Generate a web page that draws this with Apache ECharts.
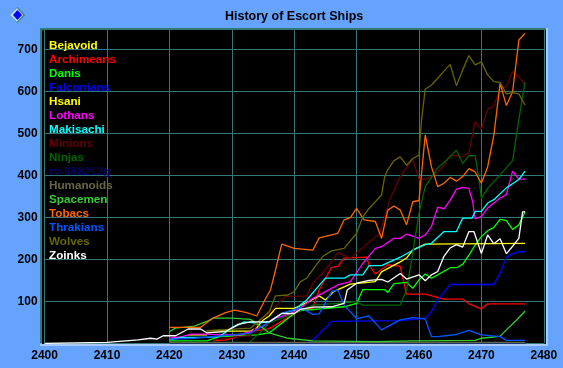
<!DOCTYPE html>
<html><head><meta charset="utf-8">
<style>html,body{margin:0;padding:0;background:#66a3ff}#c{width:563px;height:368px}</style>
<script src="https://cdn.jsdelivr.net/npm/echarts@6/dist/echarts.min.js"></script>
</head><body><div id="c"></div>
<script>
const titleText = "History of Escort Ships";
const names = ["Bejavoid","Archimeans","Danis","Falconians","Hsani","Lothans","Makisachi","Minions","Ninjas","rv-988212g","Humanoids","Spacemen","Tobacs","Thrakians","Wolves","Zoinks"];
const colors = ["#ffff00","#ff0000","#00ff00","#0000ff","#ffff00","#ff00ff","#00ffff","#660000","#006600","#000066","#666644","#33cc33","#ff6600","#0055ff","#666600","#ffffff"];

const bejavoid = [[2423,20],[2426,20]];
const archimeans = [[2427,6],[2429,8],[2431,16],[2433,28],[2436,35],[2441,79],[2443,84],[2444,127],[2446,181],[2447,183],[2448,203],[2451.6,205],[2452,187],[2453,165],[2455,187],[2457,183],[2457.6,143],[2458,117],[2461,117],[2464,105],[2467,105],[2468,94],[2470,82],[2471,94],[2477,94]];
const danis = [[2420,6],[2426,6],[2428,16],[2434,20],[2436,25],[2438,48],[2440,71],[2441,78],[2448,87],[2450,95],[2451,128],[2454.5,128],[2455,121],[2456,142],[2458,145],[2459,131],[2460,151],[2461,165],[2462,155],[2463,163],[2465,180],[2466,180],[2467,188],[2468,210],[2469,234],[2470,254],[2471,268],[2472,276],[2473,295],[2474,292],[2475,271],[2476,282],[2477,313]];
const falconians = [[2442,0],[2443,8],[2446,52],[2457,54],[2460,58],[2461,58],[2462,76],[2463,103],[2465,140],[2472,140],[2473,167],[2474,205],[2475,213],[2476,218],[2477,218]];
const hsani = [[2426,30],[2430,29],[2433,29],[2434,37],[2435,55],[2436,65],[2437,83],[2440,83],[2442,97],[2444,113],[2445,103],[2446.3,123],[2449,141],[2453,147],[2454,170],[2456,186],[2457,194],[2458,203],[2459,222],[2461,236],[2477,238]];
const lothans = [[2420,12],[2422,16],[2423.5,22],[2426,22],[2428,20],[2431,20],[2433,28],[2435,40],[2436,51],[2437,60],[2439,68],[2441,84],[2443,107],[2447,139],[2449,147],[2451,190],[2453,226],[2454,230],[2456,250],[2457,250],[2458,260],[2460,250],[2461,258],[2462,278],[2463,324],[2464,320],[2465,341],[2466,367],[2467,371],[2468,369],[2468.6,337],[2469,296],[2470,302],[2471,322],[2472,334],[2473,346],[2474,354],[2475,410],[2476,391],[2477,391]];
const makisachi = [[2420,8],[2422,14],[2426,14],[2428,16],[2430,36],[2432,51],[2434,48],[2436,51],[2438,71],[2440,79],[2442,103],[2445,155],[2448,155],[2449,163],[2451,163],[2452,185],[2454,185],[2457,205],[2459.3,224],[2461,235],[2462,238],[2464,266],[2466,266],[2467,298],[2468.5,298],[2469,314],[2470,314],[2471,334],[2472,342],[2474,370],[2476,390],[2477,410]];
const minions = [[2427,8],[2431,16],[2433,18],[2434.5,55],[2436,72],[2437.5,95],[2438.5,111],[2442,113],[2443,143],[2445,175],[2447,216],[2449,203],[2451.5,234],[2453.7,262],[2455.3,341],[2457,397],[2458,418],[2459,439],[2460,390],[2461,390],[2462,397],[2463,408],[2464,424],[2465,447],[2466,447],[2467,444],[2468,454],[2469,528],[2470,510],[2471,557],[2472,565],[2473,607],[2474,611],[2475,647],[2476,635],[2477,615]];
const ninjas = [[2433,4],[2435,32],[2436,49],[2438,60],[2440,72],[2443,91],[2447,95],[2450,99],[2451,91],[2457,91],[2458,127],[2459,214],[2460,310],[2461,373],[2462,395],[2463,418],[2464,430],[2466,460],[2467,428],[2468,447],[2469,447],[2469.7,381],[2470,345],[2471,369],[2473,401],[2475,435],[2476,532],[2476.5,579],[2477,622]];
const rv988212g = [[2420,1],[2477,1]];
const humanoids = [[2420,2],[2477,2]];
const spacemen = [[2420,28],[2421,36],[2424,41],[2426,52],[2427,60],[2430,60],[2433,57],[2435,36],[2436,25],[2439,12],[2443,6],[2453,4],[2459,6],[2469,7],[2470,12],[2472,15],[2473,17],[2474,32],[2475.6,55],[2477,77]];
const tobacs = [[2420,38],[2425,38],[2427,60],[2429,73],[2430.5,79],[2432.4,73],[2434,65],[2435.3,103],[2436.2,127],[2437,174],[2438,236],[2440,226],[2443,222],[2444,251],[2447,262],[2448,294],[2449,299],[2450,321],[2451.2,294],[2453,290],[2454,250],[2455,317],[2456,327],[2457,317],[2458,282],[2459,337],[2460,340],[2461,496],[2462,420],[2463,373],[2464,381],[2465,395],[2466,386],[2467,397],[2468,416],[2469,408],[2470,381],[2471,420],[2472,496],[2473,619],[2474,566],[2475,599],[2476,722],[2477,738]];
const thrakians = [[2420,10],[2424,12],[2430,20],[2433,24],[2436,51],[2438,71],[2441,85],[2443,69],[2444,70],[2446,123],[2447,127],[2448,91],[2450,59],[2452,65],[2454,32],[2456,48],[2457,56],[2459,61],[2461,58],[2462,16],[2463,16],[2466,21],[2468,31],[2470,20],[2473,16],[2474,7],[2477,7]];
const wolves = [[2426,30],[2433,36],[2436,75],[2437,113],[2439,115],[2440,123],[2441,147],[2442,155],[2444.5,206],[2446,220],[2448,226],[2450,262],[2451,301],[2452,321],[2454,353],[2454.5,397],[2455,413],[2456,435],[2457,444],[2458,424],[2459,440],[2460,448],[2460.4,531],[2461,605],[2462,615],[2463,631],[2464,648],[2465,664],[2466,613],[2467,651],[2468,685],[2469,663],[2470,670],[2471,639],[2472,623],[2473,621],[2474,594],[2475,597],[2476,594],[2477,567]];
const zoinks = [[2400,0],[2410,2],[2415,8],[2417,12],[2418,10],[2419,18],[2421,18],[2423,34],[2425,34],[2426,25],[2429,28],[2431,45],[2433,51],[2436,51],[2438,71],[2440,71],[2441,81],[2443,86],[2446,87],[2448,95],[2448.5,127],[2450,143],[2452,150],[2454,152],[2455,146],[2457,166],[2458,153],[2460,163],[2461,149],[2462,163],[2463,171],[2464,207],[2465,227],[2466,235],[2467,229],[2468,266],[2468.8,266],[2470,214],[2471,258],[2472,237],[2473,249],[2474,213],[2475,231],[2476,250],[2476.6,313],[2477,313]];

const seriesValues = [bejavoid,archimeans,danis,falconians,hsani,lothans,makisachi,minions,ninjas,rv988212g,humanoids,spacemen,tobacs,thrakians,wolves,zoinks];

const chart = echarts.init(document.getElementById('c'), null, {renderer:'canvas'});
const labelFont = {color:'#000', fontFamily:'Liberation Sans', fontWeight:'bold', fontSize:12};
chart.setOption({
  animation:false,
  backgroundColor:'#66a3ff',
  title:{text:titleText,left:225,top:10,textStyle:{color:'#000',fontFamily:'Liberation Sans',fontWeight:'bold',fontSize:12.5},padding:0},
  graphic:[
    {type:'rect',z:-10,shape:{x:40,y:28,width:506,height:315},style:{fill:'#337777'}},
    {type:'rect',z:-10,shape:{x:42,y:30,width:504,height:314},style:{fill:'#000'}},
    {type:'rect',z:-9,shape:{x:546,y:28,width:2,height:318},style:{fill:'#a8c8ff'}},
    {type:'rect',z:-9,shape:{x:40,y:344,width:508,height:2},style:{fill:'#a8c8ff'}},
    {type:'polygon',shape:{points:[[17.5,7],[25,15],[17.5,23],[10,15]]},style:{fill:'#337777'}},
    {type:'polygon',shape:{points:[[17,8],[23.5,15],[17,22],[10,15]]},style:{fill:'#b8d4ff'}},
    {type:'polygon',shape:{points:[[17.5,10],[22,15],[17.5,20],[13,15]]},style:{fill:'#0000ff'}}
  ],
  grid:{left:44.6,top:28.3,width:499.2,height:315,containLabel:false},
  xAxis:{type:'value',min:2400,max:2480,interval:10,
    axisLine:{show:false},axisTick:{show:false},
    axisLabel:Object.assign({margin:6,formatter:v=>String(v)},labelFont),
    splitLine:{show:true,lineStyle:{color:'#337777',width:1}}},
  yAxis:{type:'value',min:0,max:750,interval:100,
    axisLine:{show:false},axisTick:{show:false},
    axisLabel:Object.assign({margin:7,showMaxLabel:false,formatter:v=>v===0||v>700?'':String(v)},labelFont),
    splitLine:{show:true,lineStyle:{color:'#337777',width:1}}},
  legend:{orient:'vertical',left:44,top:40,padding:0,itemWidth:0,itemHeight:12,itemGap:2,icon:'none',selectedMode:false,
    data:names.map((n,i)=>({name:n,icon:'none',textStyle:{color:colors[i],fontFamily:'Liberation Sans',fontWeight:'bold',fontSize:11.7}}))},
  series:names.map((n,i)=>({name:n,type:'line',data:seriesValues[i],symbol:'none',smooth:false,
    lineStyle:{color:colors[i],width:1.3},itemStyle:{color:colors[i]},clip:false}))
});
</script></body></html>
